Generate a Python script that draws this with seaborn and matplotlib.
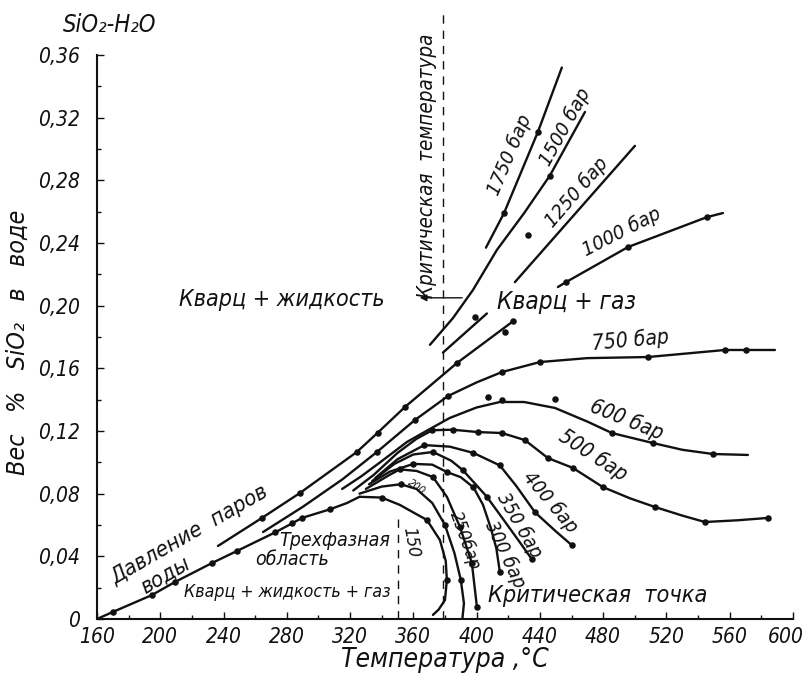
import matplotlib
matplotlib.use("Agg")
import matplotlib.pyplot as plt
import matplotlib.transforms as mtransforms
import seaborn as sns
from matplotlib.ticker import MultipleLocator, FuncFormatter

# ---------------- data (temperature °C, wt % SiO2) ----------------
t_3ph = [160, 170.1, 194.8, 209.3, 232.7, 248.5, 272.5, 283.3, 289.6, 307.3, 318, 326]
w_3ph = [0, 0.0045, 0.0153, 0.0236, 0.0357, 0.0434, 0.0552, 0.0610, 0.0645, 0.0700, 0.0740, 0.0780]

t_150 = [326, 340, 351.5, 360, 368.6, 376.8, 380.5, 381.2, 380, 376, 372.4]
w_150 = [0.078, 0.0775, 0.0728, 0.068, 0.0632, 0.0504, 0.037, 0.0249, 0.0121, 0.006, 0.0026]

t_200 = [326, 340, 352, 362, 372, 380, 386, 390, 392, 391]
w_200 = [0.080, 0.0845, 0.086, 0.083, 0.074, 0.060, 0.042, 0.025, 0.010, 0.0]

t_250 = [330, 345, 351.5, 362, 372.4, 381.2, 389.5, 397, 400.2]
w_250 = [0.083, 0.092, 0.0955, 0.0945, 0.0906, 0.078, 0.0587, 0.0357, 0.0077]

t_300 = [332, 345, 360, 372, 381.2, 390, 398, 404, 409, 412.5, 414.7]
w_300 = [0.086, 0.094, 0.099, 0.0985, 0.0938, 0.0905, 0.084, 0.073, 0.058, 0.045, 0.030]

t_350 = [334, 348, 360, 372.4, 384, 391.3, 406.5, 418, 428, 435]
w_350 = [0.088, 0.099, 0.105, 0.1066, 0.101, 0.095, 0.078, 0.062, 0.048, 0.038]

t_400 = [336, 350, 367, 383, 398, 414.7, 425, 437, 450, 460.3]
w_400 = [0.090, 0.102, 0.111, 0.110, 0.106, 0.098, 0.085, 0.068, 0.056, 0.047]

t_500 = [322, 335, 350, 362, 372, 385, 400.8, 416, 430.5, 445.1, 460.9, 479.8, 497, 512.7, 530, 544.3, 565, 584.2]
w_500 = [0.082, 0.092, 0.106, 0.115, 0.1205, 0.1208, 0.1193, 0.1187, 0.1142, 0.1027, 0.0964, 0.0842, 0.077, 0.0715, 0.066, 0.0619, 0.063, 0.0645]

t_600 = [315, 327, 339, 356, 370, 383, 400, 414.7, 430, 449.5, 470, 485.5, 511.5, 530, 549.4, 571.5]
w_600 = [0.083, 0.091, 0.100, 0.113, 0.121, 0.1283, 0.135, 0.1385, 0.1385, 0.1347, 0.126, 0.1187, 0.1123, 0.108, 0.1053, 0.1047]

t_750 = [265, 290, 315, 337, 361, 381.9, 400, 416, 440, 470, 508.3, 557, 588.6]
w_750 = [0.0555, 0.0715, 0.089, 0.1066, 0.127, 0.1423, 0.151, 0.1576, 0.164, 0.1665, 0.1672, 0.1717, 0.1717]

t_1000a = [236.5, 264.3, 288.3, 324.3, 337.6, 354.7, 387.6, 423]
w_1000a = [0.0466, 0.0645, 0.0804, 0.1066, 0.1190, 0.1353, 0.1634, 0.190]
t_1000b = [451.4, 456.5, 495.7, 545.6, 555.7]
w_1000b = [0.2119, 0.215, 0.2374, 0.2565, 0.2591]

t_1250a = [378.7, 406.5]
w_1250a = [0.170, 0.195]
t_1250b = [424.2, 500.1]
w_1250b = [0.215, 0.302]

t_1500 = [370.5, 385, 397.7, 412.8, 430, 446.3, 468.5]
w_1500 = [0.175, 0.192, 0.210, 0.2355, 0.259, 0.283, 0.3236]

t_1750 = [405.9, 417.3, 438.8, 453.9]
w_1750 = [0.237, 0.259, 0.311, 0.352]

# measured points (dots)
dot_t = [170.1, 194.8, 209.3, 232.7, 248.5, 272.5, 283.3, 289.6, 307.3,
         340, 368.6, 381.2,
         352, 380, 390,
         351.5, 372.4, 389.5, 397, 400.2,
         360, 381.2, 398, 414.7,
         372.4, 391.3, 406.5, 435,
         367, 398, 414.7, 437, 460.3,
         372, 385, 400.8, 416, 430.5, 445.1, 460.9, 479.8, 512.7, 544.3, 584.2,
         407.2, 416, 449.5, 485.5, 511.5, 549.4,
         337, 361, 381.9, 416, 440, 508.3, 557, 570,
         264.3, 288.3, 324.3, 337.6, 354.7, 387.6, 417.9, 423, 456.5, 495.7, 545.6,
         399, 432.4, 446.3, 417.3, 438.8]
dot_w = [0.0045, 0.0153, 0.0236, 0.0357, 0.0434, 0.0552, 0.0610, 0.0645, 0.0700,
         0.0775, 0.0632, 0.0249,
         0.086, 0.060, 0.025,
         0.0955, 0.0906, 0.0587, 0.0357, 0.0077,
         0.099, 0.0938, 0.084, 0.030,
         0.1066, 0.095, 0.078, 0.038,
         0.111, 0.106, 0.098, 0.068, 0.047,
         0.1205, 0.1208, 0.1193, 0.1187, 0.1142, 0.1027, 0.0964, 0.0842, 0.0715, 0.0619, 0.0645,
         0.1417, 0.1398, 0.1404, 0.1187, 0.1123, 0.1053,
         0.1066, 0.127, 0.1423, 0.1576, 0.164, 0.1672, 0.1717, 0.1717,
         0.0645, 0.0804, 0.1066, 0.1190, 0.1353, 0.1634, 0.1832, 0.190, 0.215, 0.2374, 0.2565,
         0.193, 0.245, 0.283, 0.259, 0.311]

x_ticks = [160, 200, 240, 280, 320, 360, 400, 440, 480, 520, 560, 600]
y_ticks = [0, 0.04, 0.08, 0.12, 0.16, 0.20, 0.24, 0.28, 0.32, 0.36]
t_crit = 378.7
t_dash2 = 350.3

# ---------------- drawing ----------------
sns.set_theme(style="ticks")
plt.rcParams['font.family'] = ['DejaVu Sans']
plt.rcParams['font.stretch'] = 'condensed'
plt.rcParams['font.style'] = 'italic'
plt.rcParams['axes.linewidth'] = 1.5

fig = plt.figure(figsize=(8.08, 6.77), dpi=100)
ax = fig.add_axes([0.1200, 0.0857, 0.8614, 0.8331])

LC = '#111111'
curves = [(t_3ph, w_3ph), (t_150, w_150), (t_200, w_200), (t_250, w_250), (t_300, w_300),
          (t_350, w_350), (t_400, w_400), (t_500, w_500), (t_600, w_600), (t_750, w_750),
          (t_1000a, w_1000a), (t_1000b, w_1000b), (t_1250a, w_1250a), (t_1250b, w_1250b),
          (t_1500, w_1500), (t_1750, w_1750)]
for tt, ww in curves:
    sns.lineplot(x=tt, y=ww, ax=ax, sort=False, estimator=None, color=LC, lw=1.7)

sns.scatterplot(x=dot_t, y=dot_w, ax=ax, color=LC, s=22, edgecolor=LC, linewidth=0, zorder=5)

# dashed lines
ax.plot([t_crit, t_crit], [0, 0.39], ls=(0, (6, 5)), color=LC, lw=1.0, clip_on=False)
ax.plot([t_dash2, t_dash2], [0, 0.066], ls=(0, (6, 5)), color=LC, lw=1.0)
ax.annotate('', xy=(362.3, 0.205), xytext=(392.6, 0.205),
            arrowprops=dict(arrowstyle='-|>', color=LC, lw=1.0, mutation_scale=10))

ax.set_xlim(160, 600)
ax.set_ylim(0, 0.36)
ax.set_xticks(x_ticks)
ax.set_yticks(y_ticks)
ax.xaxis.set_minor_locator(MultipleLocator(20))
ax.yaxis.set_minor_locator(MultipleLocator(0.02))
ax.yaxis.set_major_formatter(FuncFormatter(lambda v, p: '0' if abs(v) < 1e-9 else f'{v:.2f}'.replace('.', ',')))
ax.tick_params(which='both', direction='in', colors=LC, labelsize=15, width=1.0)
ax.tick_params(which='major', length=5)
ax.tick_params(which='minor', length=3)
ax.tick_params(axis='x', pad=6)
ax.tick_params(axis='y', pad=12)
for s in ['top', 'right']:
    ax.spines[s].set_visible(False)
for s in ['left', 'bottom']:
    ax.spines[s].set_color(LC)

# keep the last x tick label inside the canvas
last = ax.get_xticklabels()[-1]
last.set_transform(last.get_transform() +
                   mtransforms.ScaledTranslation(-0.07, 0, fig.dpi_scale_trans))

ax.set_xlabel('Температура ,°C', fontsize=19, labelpad=0, color=LC)
ax.set_ylabel('Вес   %   SiO₂   в   воде', fontsize=18, color=LC)
ax.yaxis.set_label_coords(-0.097, 0.49)
fig.text(0.136, 0.963, 'SiO₂-H₂O', fontsize=17, ha='center', va='center', color=LC)

def T(x, y, s, size, rot=0, **kw):
    ax.text(x, y, s, fontsize=size, rotation=rot, ha='center', va='center',
            rotation_mode='anchor', color=LC, **kw)

T(277, 0.204, 'Кварц + жидкость', 16.7)
T(457, 0.2023, 'Кварц + газ', 17.5)
T(368.6, 0.289, 'Критическая  температура', 14.8, 90)
T(219, 0.054, 'Давление  паров', 16, 30)
T(203, 0.028, 'воды', 16, 30)
T(310.4, 0.050, 'Трехфазная', 14)
T(283.3, 0.038, 'область', 14)
T(280, 0.017, 'Кварц + жидкость + газ', 12.7)
T(476.7, 0.0153, 'Критическая  точка', 16.8)
T(421, 0.296, '1750 бар', 14.5, 67)
T(455.8, 0.314, '1500 бар', 14.5, 61)
T(463.4, 0.2725, '1250 бар', 14.5, 49)
T(491.9, 0.247, '1000 бар', 14.5, 27)
T(497, 0.178, '750 бар', 15, 5)
T(495, 0.127, '600 бар', 15, -22)
T(473.5, 0.1047, '500 бар', 15, -33)
T(446.3, 0.0747, '400 бар', 14.5, -50)
T(427.4, 0.060, '350 бар', 14, -60)
T(418, 0.041, '300 бар', 14, -65)
T(392.6, 0.050, '250бар', 13, -70)
T(362.3, 0.084, '200', 8, -35)
T(358.5, 0.049, '150', 13, -80)

fig.savefig('out.png', dpi=100, facecolor='white')
